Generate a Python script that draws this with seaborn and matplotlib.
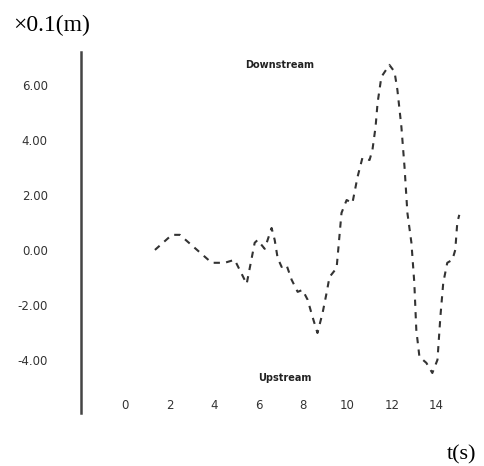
import matplotlib
matplotlib.use("Agg")
import matplotlib.pyplot as plt
import numpy as np
import pandas as pd
import seaborn as sns

# Water level record (t in s, level in units of 0.1 m)
time_s = [1.35, 2.11, 2.47, 3.90, 4.48, 4.93, 5.47, 5.83, 5.96, 6.28, 6.59, 6.73,
          6.86, 7.04, 7.26, 7.49, 7.76, 7.98, 8.21, 8.43, 8.65, 8.88, 9.06, 9.19,
          9.51, 9.73, 9.96, 10.22, 10.45, 10.67, 10.99, 11.12, 11.26, 11.35, 11.52,
          11.88, 12.11, 12.24, 12.42, 12.56, 12.69, 12.87, 13.00, 13.09, 13.23,
          13.54, 13.81, 14.04, 14.17, 14.30, 14.48, 14.71, 14.84, 14.93, 15.02]
level = [0.00, 0.55, 0.55, -0.47, -0.47, -0.36, -1.24, 0.26, 0.36, 0.04, 0.80, 0.36,
         -0.29, -0.62, -0.55, -1.09, -1.53, -1.46, -1.82, -2.45, -3.03, -2.30, -1.57, -0.99,
         -0.66, 1.35, 1.82, 1.71, 2.66, 3.36, 3.28, 3.65, 4.49, 5.36, 6.31,
         6.75, 6.50, 5.84, 4.49, 3.03, 1.35, 0.26, -1.20, -2.92, -3.90,
         -4.12, -4.49, -4.01, -2.45, -1.20, -0.47, -0.36, 0.00, 0.99, 1.28]

x_ticks = [0, 2, 4, 6, 8, 10, 12, 14]
y_ticks = [6, 4, 2, 0, -2, -4]
y_tick_labels = ["6.00", "4.00", "2.00", "0.00", "-2.00", "-4.00"]

sns.set_style("white")
plt.rcParams["font.family"] = ["DejaVu Sans"]

df = pd.DataFrame({"t": time_s, "h": level})

fig = plt.figure(figsize=(4.84, 4.66), dpi=100)
ax = fig.add_axes([0.1674, 0.1137, 0.8036, 0.7747])

sns.lineplot(data=df, x="t", y="h", ax=ax, color="#333333", linewidth=1.5,
             dashes=False, linestyle=(0, (3.0, 3.0)))

ax.set_xlim(-1.97, 15.5)
ax.set_ylim(-5.95, 7.22)
ax.set_xticks(x_ticks)
ax.set_xticklabels([str(v) for v in x_ticks])
ax.set_yticks(y_ticks)
ax.set_yticklabels(y_tick_labels)
ax.tick_params(axis="both", length=0, labelsize=8.5, colors="#333333")
ax.tick_params(axis="y", pad=24)
ax.tick_params(axis="x", pad=-10)
ax.set_xlabel("")
ax.set_ylabel("")

for side in ("top", "right", "bottom"):
    ax.spines[side].set_visible(False)
ax.spines["left"].set_color("#444444")
ax.spines["left"].set_linewidth(1.8)

ax.text(6.95, 6.75, "Downstream", fontsize=7, fontweight="bold", color="#222222",
        ha="center", va="center")
ax.text(7.17, -4.67, "Upstream", fontsize=7, fontweight="bold", color="#222222",
        ha="center", va="center")

fig.text(13 / 484, 1 - 25 / 466, "×0.1(m)", fontsize=17, family="Liberation Serif",
         ha="left", va="center", color="black")
fig.text(447 / 484, 1 - 455 / 466, "t(s)", fontsize=16, family="Liberation Serif",
         ha="left", va="center", color="black")

fig.savefig("out.png", dpi=100)
